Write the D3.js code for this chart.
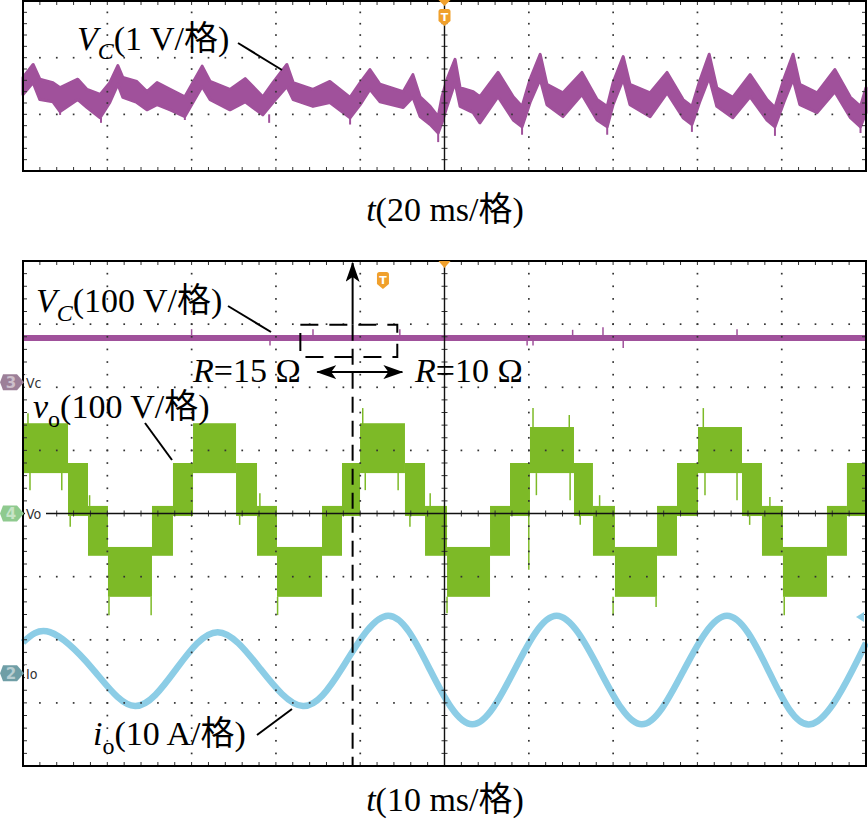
<!DOCTYPE html>
<html><head><meta charset="utf-8">
<script src="https://cdn.jsdelivr.net/npm/d3@7"></script>
<style>
html,body{margin:0;padding:0;background:#fff;}
svg{display:block;}
.ann{font-family:"Liberation Serif","Times New Roman","Noto Sans CJK SC",serif;font-size:34px;fill:#000;}
.ch{font-family:"DejaVu Sans Condensed","DejaVu Sans",Arial,sans-serif;font-size:14px;fill:#333;}
</style></head><body>
<svg id="c" width="868" height="822"></svg>
<script>
// ---------- TOP PANEL: Vc (1 V/div), t (20 ms/div) ----------
const vcT = [0,2.4,4.0,7.1,8.8,13.0,15.2,18.3,20.6,22.5,23.7,27.0,29.4,31.8,34.9,38.4,42.5,44.4,49.1,52.7,56.9,59.3,62.6,64.1,68.8,72.8,77.6,80.0,82.3,84.7,90.2,92.5,94.2,96.6,98.5,99.4,100.6,102.5,103.7,106.8,108.4,112.7,116.3,118.4,120.3,122.7,124.3,128.1,132.6,136.2,138.6,140.0,142.4,144.0,148.8,152.8,156.6,158.7,160.5,162.8,164.6,168.4,172.5,176.5,178.4,180.5,182.7,184.3,188.4,192.6,196.3,198.7,200];
const vcHi = [0.15,0.38,0.12,0.06,-0.03,0.12,-0.06,-0.15,0.06,0.36,0.15,0.08,-0.10,0.06,-0.06,-0.19,0.35,0.08,-0.06,0.13,-0.19,0.06,0.38,0.06,-0.06,0.08,-0.20,0.06,0.29,0.03,-0.10,0.20,-0.19,-0.36,-0.54,-0.19,0.12,0.47,-0.03,-0.10,-0.19,0.24,-0.19,-0.36,0.12,0.56,0.03,-0.12,0.24,-0.24,-0.36,0.06,0.52,0.03,-0.12,0.24,-0.24,-0.36,0.08,0.56,-0.03,-0.20,0.20,-0.24,-0.38,0.12,0.56,0.03,-0.12,0.29,-0.20,-0.36,-0.03];
const vcLo = [-0.15,0.06,-0.24,-0.28,-0.45,-0.24,-0.38,-0.56,-0.29,0.03,-0.20,-0.29,-0.42,-0.33,-0.42,-0.54,-0.01,-0.24,-0.42,-0.28,-0.51,-0.29,-0.01,-0.24,-0.36,-0.29,-0.56,-0.33,-0.06,-0.28,-0.38,-0.20,-0.54,-0.68,-0.83,-0.65,-0.36,0.06,-0.36,-0.47,-0.65,-0.19,-0.60,-0.72,-0.29,0.12,-0.33,-0.54,-0.15,-0.60,-0.72,-0.33,0.12,-0.33,-0.54,-0.12,-0.56,-0.68,-0.29,0.15,-0.36,-0.56,-0.19,-0.60,-0.72,-0.29,0.12,-0.33,-0.47,-0.10,-0.56,-0.72,-0.47];
const vcSpT    = [8.8,18.5,38.4,58.4,77.6,98.5,118.4,138.6,158.7,178.4,198.7];
const vcSpBase = [-0.45,-0.56,-0.54,-0.50,-0.56,-0.83,-0.72,-0.72,-0.68,-0.72,-0.72];
const vcSpTip  = [-0.51,-0.65,-0.60,-0.65,-0.68,-0.99,-0.86,-0.86,-0.81,-0.88,-0.83];
const topTrigT = 100;

// ---------- BOTTOM PANEL: t (10 ms/div) ----------
// Vc (100 V/div)
const vcBotT = [0,100];
const vcBotV = [70,70];
const vcBotSpT = [20.0,29.3,34.4,44.7,59.8,60.5,65.2,68.8,71.2,84.7];
const vcBotSpV = [84,58,84,84,58,58,83,87,54,84];
// vo (100 V/div): staircase blocks
const voEdges = [0,5.34,7.71,10.08,15.30,17.79,20.17,25.27,27.76,30.13,35.47,37.84,39.98,45.31,47.69,50.30,55.40,57.77,60.14,65.36,67.61,70.22,75.21,77.58,80.07,85.29,87.66,90.15,95.37,97.74,100];
const voHi = [143,80,12,-53,12,80,143,80,12,-53,12,80,143,80,12,-53,12,80,137,80,12,-53,12,80,137,80,12,-53,12,80];
const voLo = [64,-4,-67,-132,-67,-4,64,-4,-67,-132,-67,-4,64,-4,-67,-132,-67,-4,64,-4,-67,-132,-67,-4,64,-4,-67,-132,-67,-4];
const voSpT    = [0.59,40.3,60.5,80.7,64.8,0.83,4.6,40.6,44.5,60.9,64.9,80.9,84.7,5.6,25.7,45.9,66.1,86.2,10.2,15.2,30.2,50.3,70.0,75.1,90.3,7.9,28.1,48.3,68.4,88.6,60.0];
const voSpFrom = [140,140,135,135,135,64,64,64,64,64,64,64,64,-4,-4,-4,-4,-4,-132,-132,-132,-132,-132,-132,-132,12,12,12,12,12,0];
const voSpTo   = [159,167,167,167,156,37,37,37,37,29,21,29,21,-21,-18,-21,-18,-18,-161,-161,-161,-158,-161,-148,-161,29,32,32,29,26,-89];
// io (10 A/div)
const ioT = [0,3.2,8.25,13.3,18.2,23.1,28.15,33.2,37.9,43.3,48.3,53.3,58.3,63.3,68.4,73.4,78.4,83.5,88.4,93.4,98.4,100];
const ioA = [4.9,6.5,0.7,-5.2,0.7,6.5,0.7,-5.2,0.9,9.1,0.5,-8.1,0.5,9.1,0.5,-8.1,0.5,9.1,0.5,-8.1,0.5,4.8];
const ioTrigLevel = 8.9;
// channel reference offsets (divisions from centre)
const chOffset = {vc: 2.08, vo: 0, io: -2.53};
const chScale = {vc: 100, vo: 100, io: 10};
const loadStepT = 39.1;
const botTrigT = 42.7;

// ---------- drawing ----------
const svg = d3.select("#c");
const PURPLE = "#a0519b", GREEN = "#7dba27", BLUE = "#8ccde6", ORANGE = "#f0a02c";

const xTop = d3.scaleLinear().domain([0,200]).range([23,866]);
const yTop = d3.scaleLinear().domain([-1.5,1.5]).range([171,1]);
const xBot = d3.scaleLinear().domain([0,100]).range([23,866]);
const yBot = d3.scaleLinear().domain([-4,4]).range([766,261]);
const dv = (ch, v) => yBot(v / chScale[ch] + chOffset[ch]);

function grid(g, xs, ys, vLines, hLines, xMinor, yMinor, xCenter, yCenter){
  const [y0, y1] = [ys.range()[0], ys.range()[1]];
  const [x0, x1] = [xs.range()[0], xs.range()[1]];
  const dots = [];
  vLines.forEach(xv => yMinor.forEach(yv => dots.push([xs(xv), ys(yv)])));
  hLines.forEach(yv => xMinor.forEach(xv => dots.push([xs(xv), ys(yv)])));
  g.append("g").selectAll("rect").data(dots).join("rect")
    .attr("x", d => d[0]-0.8).attr("y", d => d[1]-0.8)
    .attr("width", 1.7).attr("height", 1.7).attr("fill", "#333");
  const tk = g.append("g").attr("stroke", "#333").attr("stroke-width", 1);
  xMinor.forEach(xv => {
    tk.append("line").attr("x1", xs(xv)).attr("x2", xs(xv)).attr("y1", y1).attr("y2", y1+4);
    tk.append("line").attr("x1", xs(xv)).attr("x2", xs(xv)).attr("y1", y0).attr("y2", y0-4);
  });
  yMinor.forEach(yv => {
    tk.append("line").attr("x1", x0).attr("x2", x0+4).attr("y1", ys(yv)).attr("y2", ys(yv));
    tk.append("line").attr("x1", x1).attr("x2", x1-4).attr("y1", ys(yv)).attr("y2", ys(yv));
  });
  if (xCenter !== null){
    const cx = xs(xCenter);
    g.append("line").attr("x1", cx).attr("x2", cx).attr("y1", y0).attr("y2", y1)
      .attr("stroke", "#111").attr("stroke-width", 1.4);
    yMinor.forEach(yv => tk.append("line").attr("x1", cx-3).attr("x2", cx+3).attr("y1", ys(yv)).attr("y2", ys(yv)));
  }
  if (yCenter !== null){
    const cy = ys(yCenter);
    g.append("line").attr("x1", x0).attr("x2", x1).attr("y1", cy).attr("y2", cy)
      .attr("stroke", "#111").attr("stroke-width", 1.4);
    xMinor.forEach(xv => tk.append("line").attr("x1", xs(xv)).attr("x2", xs(xv)).attr("y1", cy-3).attr("y2", cy+3));
  }
}

// ===== TOP PANEL =====
const gTop = svg.append("g");
const vcData = vcT.map((t,i) => ({t, hi: vcHi[i], lo: vcLo[i]}));
gTop.append("path").datum(vcData)
  .attr("d", d3.area().x(d => xTop(d.t)).y0(d => yTop(d.lo)).y1(d => yTop(d.hi)))
  .attr("fill", PURPLE).attr("stroke", PURPLE).attr("stroke-width", 3).attr("stroke-linejoin", "round");
gTop.append("g").selectAll("line").data(vcSpT).join("line")
  .attr("x1", d => xTop(d)).attr("x2", d => xTop(d))
  .attr("y1", (d,i) => yTop(vcSpBase[i])).attr("y2", (d,i) => yTop(vcSpTip[i]))
  .attr("stroke", PURPLE).attr("stroke-width", 2);
grid(gTop, xTop, yTop,
  d3.range(20,200,20).filter(v => v !== 100), [-0.5, 0.5],
  d3.range(0,200.001,4), d3.range(-1.5,1.5001,0.2), 100, null);
gTop.append("rect").attr("x", 23).attr("y", 1).attr("width", 843).attr("height", 170)
  .attr("fill", "none").attr("stroke", "#000").attr("stroke-width", 2);

function trigBadge(g, cx, y0){
  g.append("path")
    .attr("d", `M${cx-6},${y0+2.5} Q${cx-6},${y0} ${cx-3.5},${y0} L${cx+3.5},${y0} Q${cx+6},${y0} ${cx+6},${y0+2.5} L${cx+6},${y0+12} L${cx},${y0+17} L${cx-6},${y0+12} Z`)
    .attr("fill", ORANGE);
  g.append("text").attr("x", cx).attr("y", y0+11.5).attr("text-anchor", "middle")
    .attr("font-family", "DejaVu Sans").attr("font-weight", "bold").attr("font-size", 11)
    .attr("fill", "#fff").text("T");
}
gTop.append("path").attr("d", `M${xTop(topTrigT)-6},0 L${xTop(topTrigT)+6},0 L${xTop(topTrigT)},6 Z`).attr("fill", ORANGE);
trigBadge(gTop, xTop(topTrigT), 9);

// ===== BOTTOM PANEL =====
const gBot = svg.append("g");
const voData = voHi.map((h,i) => ({t0: voEdges[i], t1: voEdges[i+1], hi: h, lo: voLo[i]}));
gBot.append("g").selectAll("rect").data(voData).join("rect")
  .attr("x", d => xBot(d.t0)).attr("width", d => xBot(d.t1) - xBot(d.t0))
  .attr("y", d => dv("vo", d.hi)).attr("height", d => dv("vo", d.lo) - dv("vo", d.hi))
  .attr("fill", GREEN);
gBot.append("g").selectAll("line").data(voSpT).join("line")
  .attr("x1", d => xBot(d)).attr("x2", d => xBot(d))
  .attr("y1", (d,i) => dv("vo", voSpFrom[i])).attr("y2", (d,i) => dv("vo", voSpTo[i]))
  .attr("stroke", GREEN).attr("stroke-width", 1.5);
gBot.append("path").datum(vcBotT.map((t,i) => ({t, v: vcBotV[i]})))
  .attr("d", d3.line().x(d => xBot(d.t)).y(d => dv("vc", d.v)))
  .attr("fill", "none").attr("stroke", PURPLE).attr("stroke-width", 6);
gBot.append("g").selectAll("line").data(vcBotSpT).join("line")
  .attr("x1", d => xBot(d)).attr("x2", d => xBot(d))
  .attr("y1", dv("vc", 70)).attr("y2", (d,i) => dv("vc", vcBotSpV[i]))
  .attr("stroke", PURPLE).attr("stroke-width", 1.5);
gBot.append("path").datum(ioT.map((t,i) => ({t, a: ioA[i]})))
  .attr("d", d3.line().x(d => xBot(d.t)).y(d => dv("io", d.a)).curve(d3.curveNatural))
  .attr("fill", "none").attr("stroke", BLUE).attr("stroke-width", 6.5);

grid(gBot, xBot, yBot,
  d3.range(10,100,10).filter(v => v !== 50), [-3,-2,-1,1,2,3],
  d3.range(0,100.001,2), d3.range(-4,4.001,0.2), 50, 0);
gBot.append("rect").attr("x", 23).attr("y", 261).attr("width", 843).attr("height", 505)
  .attr("fill", "none").attr("stroke", "#000").attr("stroke-width", 2);

gBot.append("path").attr("d", `M${xBot(50)-6},261 L${xBot(50)+6},261 L${xBot(50)},268 Z`).attr("fill", ORANGE);
trigBadge(gBot, xBot(botTrigT), 272);
const ty = dv("io", ioTrigLevel);
gBot.append("path").attr("d", `M856,${ty} L864,${ty-5} L864,${ty+5} Z`).attr("fill", BLUE);

const chMarks = [
  {ch: "vc", num: "3", lab: "Vc", fill: "#9c7f98"},
  {ch: "vo", num: "4", lab: "Vo", fill: "#8fca8f"},
  {ch: "io", num: "2", lab: "Io", fill: "#6f9ea6"}
];
chMarks.forEach(m => {
  const y = dv(m.ch, 0);
  gBot.append("path").attr("d", `M3,${y-8} L17,${y-8} L24,${y} L17,${y+8} L3,${y+8} L0,${y} Z`).attr("fill", m.fill);
  gBot.append("text").attr("x", 11).attr("y", y+5.5).attr("text-anchor", "middle")
    .attr("font-family", "DejaVu Sans").attr("font-weight", "bold").attr("font-size", 15)
    .attr("fill", "#fff").attr("fill-opacity", 0.5).text(m.num);
  gBot.append("rect").attr("x", 25).attr("y", y-8).attr("width", 21).attr("height", 15).attr("fill", "#fff");
  gBot.append("text").attr("class", "ch").attr("x", 26).attr("y", y+5.5).text(m.lab);
});

// ===== ANNOTATIONS =====
const defs = svg.append("defs");
defs.append("marker").attr("id", "ah").attr("markerUnits", "userSpaceOnUse")
  .attr("viewBox", "0 0 20 14").attr("refX", 19).attr("refY", 7)
  .attr("markerWidth", 20).attr("markerHeight", 14).attr("orient", "auto-start-reverse")
  .append("path").attr("d", "M0,0 L20,7 L0,14 L5,7 Z").attr("fill", "#000");

const ann = svg.append("g");
const sx = xBot(loadStepT);
ann.append("line").attr("x1", sx).attr("x2", sx).attr("y1", yBot(2.99)).attr("y2", yBot(3.97))
  .attr("stroke", "#000").attr("stroke-width", 2).attr("marker-end", "url(#ah)");
ann.append("line").attr("x1", sx).attr("x2", sx).attr("y1", yBot(2.99)).attr("y2", yBot(-4))
  .attr("stroke", "#000").attr("stroke-width", 2).attr("stroke-dasharray", "16,8");
ann.append("rect").attr("x", xBot(32.9)).attr("y", yBot(2.99))
  .attr("width", xBot(44.4) - xBot(32.9)).attr("height", yBot(2.48) - yBot(2.99))
  .attr("fill", "none").attr("stroke", "#000").attr("stroke-width", 2).attr("stroke-dasharray", "18,11");
ann.append("line").attr("x1", xBot(34.9)).attr("x2", xBot(45.0)).attr("y1", yBot(2.24)).attr("y2", yBot(2.24))
  .attr("stroke", "#000").attr("stroke-width", 2)
  .attr("marker-start", "url(#ah)").attr("marker-end", "url(#ah)");

const leaders = [[238,43,282,70],[228,306,271,332],[145,423,172,460],[257,735,292,709]];
ann.selectAll("line.ld").data(leaders).join("line").attr("class", "ld")
  .attr("x1", d => d[0]).attr("y1", d => d[1]).attr("x2", d => d[2]).attr("y2", d => d[3])
  .attr("stroke", "#000").attr("stroke-width", 2);

function label(x, y, parts, anchor){
  const t = ann.append("text").attr("class", "ann").attr("x", x).attr("y", y);
  if (anchor) t.attr("text-anchor", anchor);
  parts.forEach(p => {
    const s = t.append("tspan").text(p.s);
    if (p.i) s.attr("font-style", "italic");
    if (p.sub) s.attr("font-size", 24).attr("dy", 9);
    if (p.up) s.attr("dy", -9);
  });
}
label(77, 50, [{s:"V", i:1},{s:"C", i:1, sub:1},{s:"(1 V/格)", up:1}]);
label(445, 221, [{s:"t", i:1},{s:"(20 ms/格)"}], "middle");
label(36, 312, [{s:"V", i:1},{s:"C", i:1, sub:1},{s:"(100 V/格)", up:1}]);
label(193, 382, [{s:"R", i:1},{s:"=15 Ω"}]);
label(415, 382, [{s:"R", i:1},{s:"=10 Ω"}]);
label(33, 418, [{s:"v", i:1},{s:"o", sub:1},{s:"(100 V/格)", up:1}]);
label(93, 745, [{s:"i", i:1},{s:"o", sub:1},{s:"(10 A/格)", up:1}]);
label(445, 811, [{s:"t", i:1},{s:"(10 ms/格)"}], "middle");
</script>
</body></html>
